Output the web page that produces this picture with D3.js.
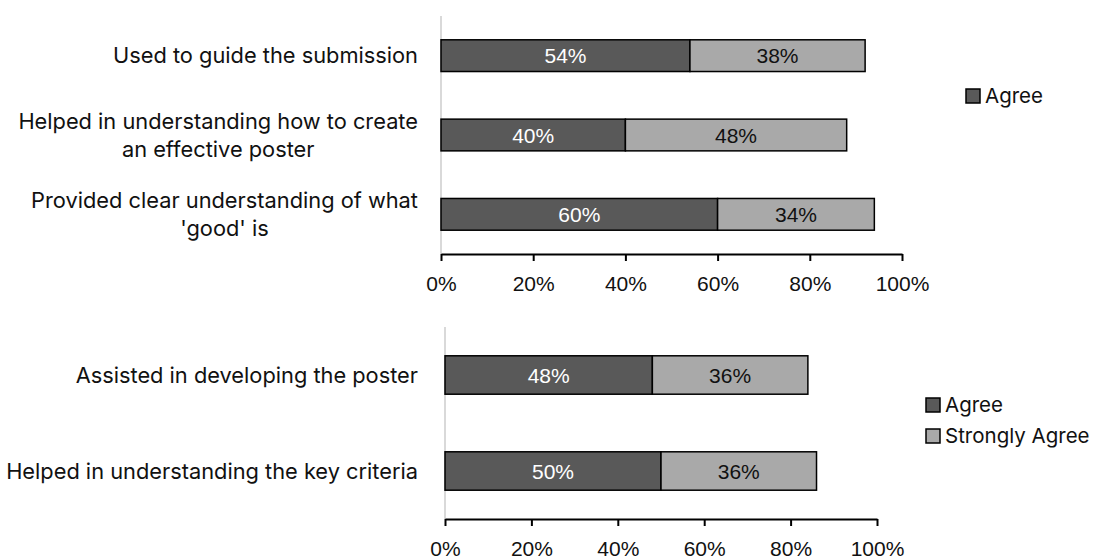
<!DOCTYPE html>
<html>
<head>
<meta charset="utf-8">
<script src="https://cdn.jsdelivr.net/npm/d3@7"></script>
<style>
  html, body { margin: 0; padding: 0; background: #fff; }
  svg { display: block; }
</style>
</head>
<body>
<svg id="chart" width="1097" height="559"></svg>
<script>
// Survey results: share of respondents agreeing with each statement
const topCategories = [
  ["Used to guide the submission"],
  ["Helped in understanding how to create", "an effective poster"],
  ["Provided clear understanding of what", "'good' is"]
];
const topAgree = [0.54, 0.40, 0.60];
const topStrongly = [0.38, 0.48, 0.34];

const bottomCategories = [
  ["Assisted in developing the poster"],
  ["Helped in understanding the key criteria"]
];
const bottomAgree = [0.48, 0.50];
const bottomStrongly = [0.36, 0.36];

const tickValues = [0, 0.2, 0.4, 0.6, 0.8, 1.0];
const seriesNames = ["Agree", "Strongly Agree"];

const colors = { agree: "#595959", strongly: "#a9a9a9" };
const labelFont = "Inter, 'Noto Sans', sans-serif";
const numFont = "'Liberation Sans', Arial, sans-serif";
const labelSize = 21.8;
const numSize = 21;

const svg = d3.select("#chart");

function panel(opts) {
  const { cats, agree, strongly, xRange, yRange, labelRight } = opts;
  const g = svg.append("g");
  const x = d3.scaleLinear().domain([0, 1]).range(xRange);
  const y = d3.scaleBand().domain(d3.range(cats.length)).range(yRange)
    .paddingInner(0.6).paddingOuter(0.3);

  // light vertical category axis
  g.append("line")
    .attr("x1", x(0)).attr("x2", x(0))
    .attr("y1", yRange[0]).attr("y2", yRange[1])
    .attr("stroke", "#d9d9d9").attr("stroke-width", 2);

  // bottom percentage axis
  const axis = d3.axisBottom(x).tickValues(tickValues)
    .tickFormat(d3.format(".0%")).tickSize(7).tickSizeOuter(0).tickPadding(15);
  const ax = g.append("g").attr("transform", `translate(0,${yRange[1]})`).call(axis);
  ax.select(".domain").attr("stroke", "#000").attr("stroke-width", 2);
  ax.selectAll(".tick line").attr("stroke", "#000").attr("stroke-width", 2);
  ax.selectAll(".tick text").attr("font-family", numFont).attr("font-size", numSize).attr("fill", "#111");

  const rows = cats.map((c, i) => ({ c, i, a: agree[i], s: strongly[i] }));

  const row = g.selectAll(".row").data(rows).join("g").attr("class", "row");

  row.append("rect")
    .attr("x", d => x(0)).attr("y", d => y(d.i))
    .attr("width", d => x(d.a) - x(0)).attr("height", y.bandwidth())
    .attr("fill", colors.agree).attr("stroke", "#000").attr("stroke-width", 1.5);
  row.append("rect")
    .attr("x", d => x(d.a)).attr("y", d => y(d.i))
    .attr("width", d => x(d.a + d.s) - x(d.a)).attr("height", y.bandwidth())
    .attr("fill", colors.strongly).attr("stroke", "#000").attr("stroke-width", 1.5);

  const fmt = d3.format(".0%");
  row.append("text")
    .attr("x", d => (x(0) + x(d.a)) / 2).attr("y", d => y(d.i) + y.bandwidth() / 2)
    .attr("dy", "0.36em").attr("text-anchor", "middle")
    .attr("font-family", numFont).attr("font-size", numSize).attr("fill", "#fff")
    .text(d => fmt(d.a));
  row.append("text")
    .attr("x", d => (x(d.a) + x(d.a + d.s)) / 2).attr("y", d => y(d.i) + y.bandwidth() / 2)
    .attr("dy", "0.36em").attr("text-anchor", "middle")
    .attr("font-family", numFont).attr("font-size", numSize).attr("fill", "#111")
    .text(d => fmt(d.s));

  // category labels: centred lines, block right-aligned
  const lineH = 28;
  row.each(function(d) {
    const t = d3.select(this).append("text")
      .attr("font-family", labelFont).attr("font-size", labelSize).attr("fill", "#111")
      .attr("text-anchor", "middle");
    const cy = y(d.i) + y.bandwidth() / 2;
    const n = d.c.length;
    d.c.forEach((line, k) => {
      t.append("tspan").attr("y", cy + (k - (n - 1) / 2) * lineH).attr("dy", "0.35em").text(line);
    });
    let w = 0;
    t.selectAll("tspan").each(function() { w = Math.max(w, this.getComputedTextLength()); });
    t.selectAll("tspan").attr("x", labelRight - w / 2);
  });
  return { x, y };
}

panel({ cats: topCategories, agree: topAgree, strongly: topStrongly,
        xRange: [441, 902], yRange: [16, 254], labelRight: 418 });
panel({ cats: bottomCategories, agree: bottomAgree, strongly: bottomStrongly,
        xRange: [445, 877], yRange: [327, 519], labelRight: 418 });

// legends
function legend(items, x0, y0, gap) {
  const lg = svg.append("g").attr("transform", `translate(${x0},${y0})`);
  const it = lg.selectAll("g").data(items).join("g")
    .attr("transform", (d, i) => `translate(0,${i * gap})`);
  it.append("rect").attr("x", 0).attr("y", -7).attr("width", 14).attr("height", 14)
    .attr("fill", d => d.color).attr("stroke", "#000").attr("stroke-width", 1.5);
  it.append("text").attr("x", 19).attr("dy", "0.35em")
    .attr("font-family", labelFont).attr("font-size", 20.5).attr("fill", "#111")
    .text(d => d.name);
}
legend([{ name: seriesNames[0], color: colors.agree }], 966, 96, 31);
legend([{ name: seriesNames[0], color: colors.agree },
        { name: seriesNames[1], color: colors.strongly }], 926, 405, 31);
</script>
</body>
</html>
